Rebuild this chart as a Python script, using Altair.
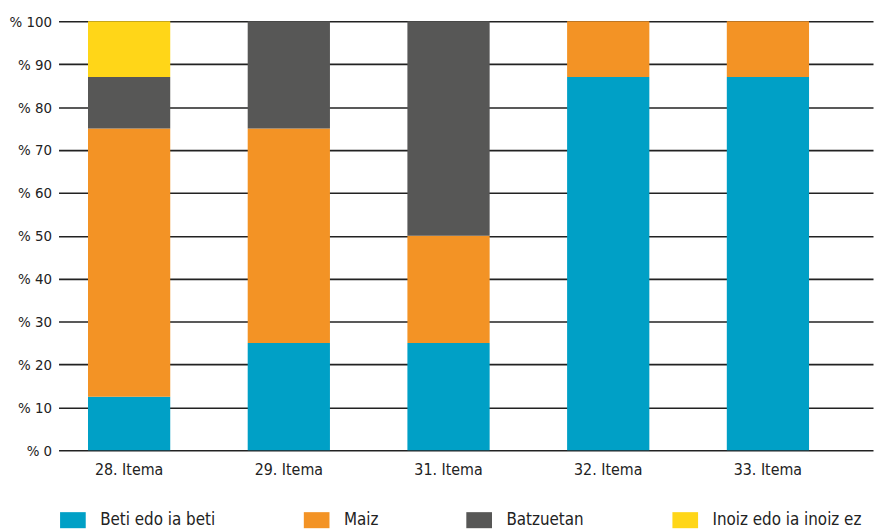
import altair as alt
import pandas as pd

categories = ["28. Itema", "29. Itema", "31. Itema", "32. Itema", "33. Itema"]
series = ["Beti edo ia beti", "Maiz", "Batzuetan", "Inoiz edo ia inoiz ez"]
colors = ["#00a0c6", "#f39325", "#575756", "#ffd618"]
beti = [12.5, 25, 25, 87, 87]
maiz = [62.5, 50, 25, 13, 13]
batzuetan = [12, 25, 50, 0, 0]
inoiz = [13, 0, 0, 0, 0]
y_ticks = [0, 10, 20, 30, 40, 50, 60, 70, 80, 90, 100]

rows = []
for s_i, (s, vals) in enumerate(zip(series, [beti, maiz, batzuetan, inoiz])):
    for c, v in zip(categories, vals):
        rows.append({"cat": c, "series": s, "value": v, "idx": s_i})
df = pd.DataFrame(rows)

FONT = "DejaVu Sans Condensed, sans-serif"

chart = alt.Chart(df).mark_bar(size=83).encode(
    x=alt.X("cat:N", sort=categories, title=None,
            scale=alt.Scale(paddingInner=0.5, paddingOuter=0.3, align=0.32),
            axis=alt.Axis(labelAngle=0, domain=False, ticks=False, labelPadding=11,
                          labelFontSize=16, labelFont=FONT, labelColor="#222")),
    y=alt.Y("value:Q", stack="zero", title=None,
            scale=alt.Scale(domain=[0, 100], nice=False),
            axis=alt.Axis(values=y_ticks, labelExpr="'% ' + datum.value", domain=False,
                          ticks=False, labelPadding=7, labelFontSize=15, labelFont=FONT,
                          labelColor="#222", grid=True, gridColor="#222", gridWidth=1.6)),
    color=alt.Color("series:N", sort=series,
                    scale=alt.Scale(domain=series, range=colors),
                    legend=alt.Legend(title=None, orient="none", legendX=6, legendY=495,
                                      direction="horizontal", columns=4, gridAlign="none",
                                      columnPadding=88, labelLimit=0,
                                      symbolType="M-1.6,-1 L1.6,-1 L1.6,1 L-1.6,1 Z",
                                      symbolSize=262, symbolStrokeWidth=0, symbolOpacity=1,
                                      labelFontSize=17, labelFont=FONT, labelColor="#222",
                                      labelOffset=19)),
    order=alt.Order("idx:Q", sort="ascending"),
).properties(
    width=822, height=433,
    autosize=alt.AutoSizeParams(type="none"),
    padding={"left": 51, "top": 11, "right": 1, "bottom": 78},
).configure_view(stroke=None)

chart.save("out.html", embed_options={"renderer": "svg", "actions": False})
